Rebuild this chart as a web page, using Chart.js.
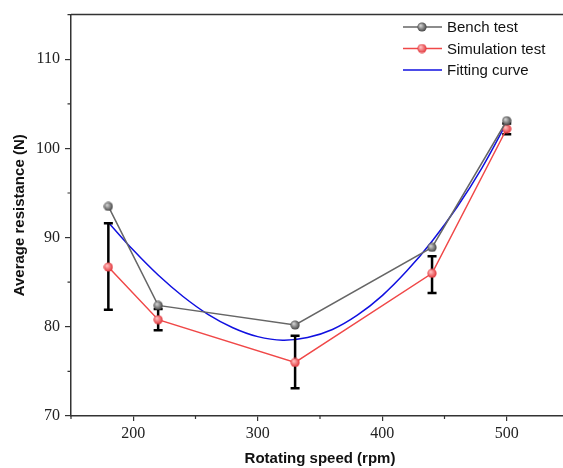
<!DOCTYPE html>
<html>
<head>
<meta charset="utf-8">
<script src="https://cdn.jsdelivr.net/npm/chart.js@4"></script>
<style>
  html, body { margin: 0; padding: 0; background: #fff; overflow: hidden; }
  #wrap { width: 580px; height: 468px; }
</style>
</head>
<body>
<div id="wrap"><canvas id="resistanceChart" width="580" height="468"></canvas></div>
<script>
// Data
const speeds = [180, 220, 330, 440, 500];
const benchTest = [93.5, 82.4, 80.2, 88.9, 103.1];
const simulationTest = [86.7, 80.8, 76.0, 86.0, 102.2];
const simErrLow = [81.9, 79.6, 73.1, 83.8, 101.6];
const simErrHigh = [91.6, 82.0, 79.0, 87.9, 102.8];

const fitSpeeds = [180, 200, 220, 240, 260, 280, 300, 320, 340, 360, 380, 400, 420, 440, 460, 480, 500];
const fitCurve = [91.7, 88.6, 85.8, 83.4, 81.4, 79.9, 78.9, 78.5, 78.8, 79.7, 81.3, 83.5, 86.3, 89.6, 93.4, 97.8, 102.9];

const xTicks = [200, 300, 400, 500];
const xMinorTicks = [150, 250, 350, 450, 550];
const yTicks = [70, 80, 90, 100, 110];
const yMinorTicks = [75, 85, 95, 105, 115];

// shaded ball markers
function ballMarker(light, dark) {
    const c = document.createElement('canvas');
    c.width = 10; c.height = 10;
    const g = c.getContext('2d');
    const grad = g.createRadialGradient(3.5, 3.5, 0.5, 5, 5, 5);
    grad.addColorStop(0, light);
    grad.addColorStop(1, dark);
    g.fillStyle = grad;
    g.beginPath();
    g.arc(5, 5, 4.6, 0, Math.PI * 2);
    g.fill();
    return c;
}
const grayBall = ballMarker('#d0d0d0', '#3a3a3a');
const redBall = ballMarker('#ffc0c0', '#e02a30');

const frameColor = '#333';

const extrasPlugin = {
    id: 'extras',
    afterDatasetDraw(chart, args) {
        // error bars go above the fitting curve but under the points
        if (args.index !== 2) return;
        const ctx = chart.ctx;
        const x = chart.scales.x, y = chart.scales.y;
        ctx.save();
        ctx.strokeStyle = '#000';
        ctx.lineWidth = 2.5;
        speeds.forEach((s, i) => {
            const px = x.getPixelForValue(s);
            const top = y.getPixelForValue(simErrHigh[i]);
            const bot = y.getPixelForValue(simErrLow[i]);
            ctx.beginPath();
            ctx.moveTo(px, top); ctx.lineTo(px, bot);
            ctx.moveTo(px - 4.5, top); ctx.lineTo(px + 4.5, top);
            ctx.moveTo(px - 4.5, bot); ctx.lineTo(px + 4.5, bot);
            ctx.stroke();
        });
        ctx.restore();
    },
    afterDraw(chart) {
        const ctx = chart.ctx;
        const area = chart.chartArea;
        const x = chart.scales.x, y = chart.scales.y;
        ctx.save();
        ctx.strokeStyle = frameColor;
        ctx.lineWidth = 1.5;
        // top frame line
        ctx.beginPath();
        ctx.moveTo(area.left, area.top);
        ctx.lineTo(chart.width, area.top);
        ctx.stroke();
        // minor ticks
        ctx.lineWidth = 1.2;
        ctx.beginPath();
        xMinorTicks.forEach(v => {
            const px = x.getPixelForValue(v);
            ctx.moveTo(px, area.bottom); ctx.lineTo(px, area.bottom + 3);
        });
        yMinorTicks.forEach(v => {
            const py = y.getPixelForValue(v);
            ctx.moveTo(area.left, py); ctx.lineTo(area.left - 3.5, py);
        });
        ctx.stroke();

        // legend
        const items = [
            { label: 'Bench test', color: '#666', marker: grayBall },
            { label: 'Simulation test', color: '#f04848', marker: redBall },
            { label: 'Fitting curve', color: '#1010e0', marker: null }
        ];
        ctx.font = '15px "Liberation Sans", Arial, sans-serif';
        ctx.textBaseline = 'middle';
        ctx.fillStyle = '#111';
        items.forEach((it, i) => {
            const ly = 27 + i * 21.5;
            ctx.strokeStyle = it.color;
            ctx.lineWidth = 1.5;
            ctx.beginPath();
            ctx.moveTo(403, ly); ctx.lineTo(442, ly);
            ctx.stroke();
            if (it.marker) ctx.drawImage(it.marker, 417, ly - 5);
            ctx.fillText(it.label, 447, ly + 1);
        });
        ctx.restore();
    }
};

function initResistanceChart() {
    const ctx = document.getElementById('resistanceChart');
    if (!ctx) return;

    new Chart(ctx, {
        type: 'line',
        data: {
            datasets: [{
                label: 'Bench test',
                data: speeds.map((s, i) => ({ x: s, y: benchTest[i] })),
                borderColor: '#666',
                borderWidth: 1.5,
                pointStyle: grayBall,
                tension: 0
            }, {
                label: 'Simulation test',
                data: speeds.map((s, i) => ({ x: s, y: simulationTest[i] })),
                borderColor: '#f04848',
                borderWidth: 1.5,
                pointStyle: redBall,
                tension: 0
            }, {
                label: 'Fitting curve',
                data: fitSpeeds.map((s, i) => ({ x: s, y: fitCurve[i] })),
                borderColor: '#1010e0',
                borderWidth: 1.5,
                pointRadius: 0,
                tension: 0.4
            }]
        },
        options: {
            responsive: false,
            animation: false,
            devicePixelRatio: 1,
            layout: { padding: { top: 14, right: 11, left: 0, bottom: 0 } },
            plugins: {
                legend: { display: false },
                tooltip: { enabled: false }
            },
            scales: {
                x: {
                    type: 'linear',
                    min: 150,
                    max: 550,
                    afterBuildTicks: scale => { scale.ticks = xTicks.map(v => ({ value: v })); },
                    afterFit: scale => { scale.height = 52; },
                    grid: { drawOnChartArea: false, drawTicks: true, tickLength: 5, color: frameColor, lineWidth: 1.2 },
                    border: { display: true, color: frameColor, width: 1.5 },
                    ticks: {
                        padding: 3,
                        color: '#222',
                        font: { family: '"Liberation Serif", "Times New Roman", serif', size: 16 }
                    },
                    title: {
                        display: true,
                        text: 'Rotating speed (rpm)',
                        color: '#111',
                        padding: { top: 0, bottom: 0 },
                        font: { family: '"Liberation Sans", Arial, sans-serif', size: 15, weight: 'bold' }
                    }
                },
                y: {
                    min: 70,
                    max: 115,
                    afterBuildTicks: scale => { scale.ticks = yTicks.map(v => ({ value: v })); },
                    afterFit: scale => { scale.width = 71; },
                    grid: { drawOnChartArea: false, drawTicks: true, tickLength: 6, color: frameColor, lineWidth: 1.2 },
                    border: { display: true, color: frameColor, width: 1.5 },
                    ticks: {
                        padding: 5,
                        color: '#222',
                        font: { family: '"Liberation Serif", "Times New Roman", serif', size: 16 }
                    },
                    title: {
                        display: true,
                        text: 'Average resistance (N)',
                        color: '#111',
                        padding: { top: 11, bottom: 0 },
                        font: { family: '"Liberation Sans", Arial, sans-serif', size: 15, weight: 'bold' }
                    }
                }
            }
        },
        plugins: [extrasPlugin]
    });
}

document.addEventListener('DOMContentLoaded', function() {
    initResistanceChart();
});
</script>
</body>
</html>
